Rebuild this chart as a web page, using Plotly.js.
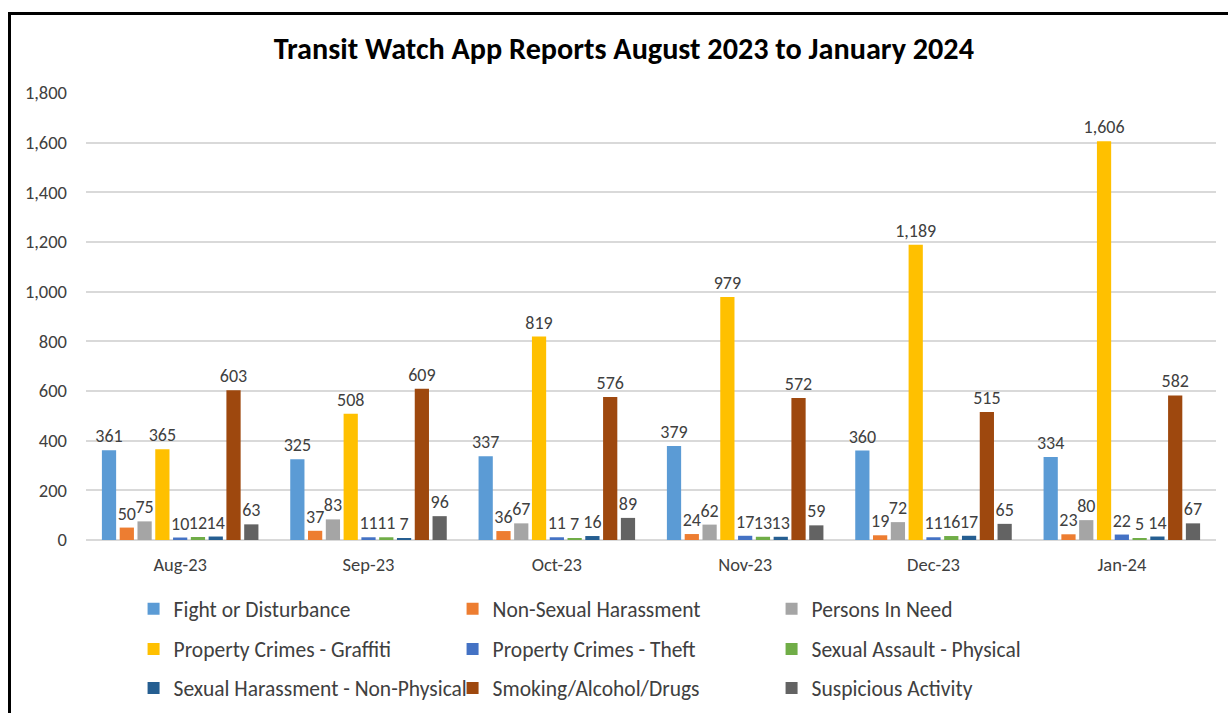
<!DOCTYPE html>
<html>
<head>
<meta charset="utf-8">
<script src="https://cdn.plot.ly/plotly-3.0.1.min.js"></script>
<style>
  html, body { margin: 0; padding: 0; background: #fff; }
  #wrap { position: relative; width: 1228px; height: 713px; overflow: hidden; }
  #chart { position: absolute; left: 0; top: 0; width: 1228px; height: 713px; }
  #frame { position: absolute; left: 8px; top: 12px; width: 1230px; height: 710px;
           border-top: 3px solid #000; border-left: 3px solid #000; pointer-events: none; }
</style>
</head>
<body>
<div id="wrap"><div id="chart"></div><div id="frame"></div></div>
<script>
const months = ["Aug-23", "Sep-23", "Oct-23", "Nov-23", "Dec-23", "Jan-24"];

const fightOrDisturbance     = [361, 325, 337, 379, 360, 334];
const nonSexualHarassment    = [50, 37, 36, 24, 19, 23];
const personsInNeed          = [75, 83, 67, 62, 72, 80];
const propertyGraffiti       = [365, 508, 819, 979, 1189, 1606];
const propertyTheft          = [10, 11, 11, 17, 11, 22];
const sexualAssaultPhysical  = [12, 11, 7, 13, 16, 5];
const sexualHarassmentNonPhy = [14, 7, 16, 13, 17, 14];
const smokingAlcoholDrugs    = [603, 609, 576, 572, 515, 582];
const suspiciousActivity     = [63, 96, 89, 59, 65, 67];

const seriesNames = [
  "Fight or Disturbance", "Non-Sexual Harassment", "Persons In Need",
  "Property Crimes - Graffiti", "Property Crimes - Theft", "Sexual Assault - Physical",
  "Sexual Harassment - Non-Physical", "Smoking/Alcohol/Drugs", "Suspicious Activity"
];
const seriesValues = [
  fightOrDisturbance, nonSexualHarassment, personsInNeed,
  propertyGraffiti, propertyTheft, sexualAssaultPhysical,
  sexualHarassmentNonPhy, smokingAlcoholDrugs, suspiciousActivity
];
const seriesColors = [
  "#5B9BD5", "#ED7D31", "#A5A5A5",
  "#FFC000", "#4472C4", "#70AD47",
  "#255E91", "#9E480E", "#636363"
];
const legendIds = ["legend", "legend", "legend", "legend2", "legend2", "legend2", "legend3", "legend3", "legend3"];

const FONT = "Calibri, Carlito, 'Liberation Sans', Arial, sans-serif";

const traces = seriesNames.map((name, i) => ({
  type: "bar",
  name: name,
  x: months,
  y: seriesValues[i],
  marker: { color: seriesColors[i] },
  text: seriesValues[i],
  texttemplate: "%{y:,}",
  textposition: "outside",
  constraintext: "none",
  textfont: { family: FONT, size: 18, color: "#404040" },
  cliponaxis: false,
  legend: legendIds[i],
  hoverinfo: "x+y+name"
}));

const legendBase = {
  orientation: "h",
  xanchor: "left",
  yanchor: "middle",
  x: 0.0421,
  entrywidth: 274,
  entrywidthmode: "pixels",
  font: { family: FONT, size: 21.5, color: "#404040" },
  bgcolor: "rgba(0,0,0,0)",
  traceorder: "normal"
};

const layout = {
  width: 1228,
  height: 713,
  margin: { l: 86, r: 12, t: 93, b: 173, autoexpand: false },
  paper_bgcolor: "#ffffff",
  plot_bgcolor: "#ffffff",
  title: {
    text: "<b>Transit Watch App Reports August 2023 to January 2024</b>",
    font: { family: FONT, size: 30.2, color: "#000000" },
    x: 0.508, xanchor: "center",
    y: 0.932, yanchor: "middle"
  },
  barmode: "group",
  bargap: 0.15,
  bargroupgap: 0.2,
  xaxis: {
    type: "category",
    tickfont: { family: FONT, size: 18.5, color: "#404040" },
    showline: false,
    ticks: "",
    showgrid: false,
    ticklabelstandoff: 11
  },
  yaxis: {
    range: [0, 1800],
    dtick: 200,
    tickformat: ",",
    tickfont: { family: FONT, size: 18.5, color: "#404040" },
    gridcolor: "#D9D9D9",
    gridwidth: 1.5,
    zeroline: true,
    zerolinecolor: "#D9D9D9",
    zerolinewidth: 1.5,
    showline: false,
    ticks: "",
    ticklabelstandoff: 18
  },
  showlegend: true,
  legend:  Object.assign({}, legendBase, { y: -0.154 }),
  legend2: Object.assign({}, legendBase, { y: -0.244 }),
  legend3: Object.assign({}, legendBase, { y: -0.331 })
};

Plotly.newPlot("chart", traces, layout, { displayModeBar: false, responsive: false });
</script>
</body>
</html>
